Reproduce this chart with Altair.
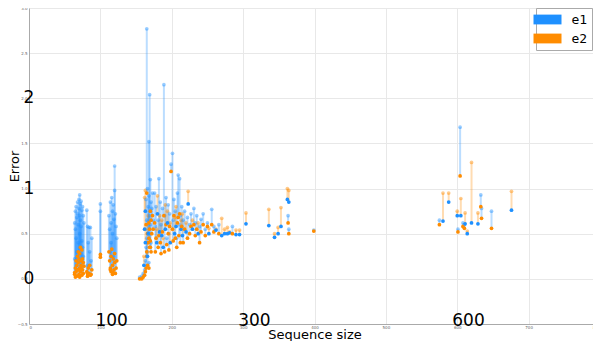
import altair as alt
import pandas as pd

# (sequence size, e1, e2) rows, grouped by cluster
cluster_a = [(64,0.62,0.05),(65,0.75,0.12),(65,0.55,0.02),(66,0.80,0.20),(66,0.45,0.08),
             (67,0.68,0.15),(67,0.30,0.03),(68,0.85,0.25),(68,0.72,0.10),(69,0.60,0.30),
             (69,0.40,0.18),(70,0.88,0.22),(70,0.78,0.05),(71,0.93,0.28),(71,0.70,0.12),
             (71,0.50,0.02),(72,0.83,0.35),(72,0.65,0.08),(73,0.86,0.20),(73,0.58,0.15),
             (74,0.76,0.32),(74,0.42,0.04),(75,0.80,0.10),(75,0.35,0.22),(76,0.70,0.18),
             (76,0.25,0.06),(77,0.62,0.14),(64,0.22,0.07),(69,0.20,0.10),(73,0.28,0.12)]
cluster_b = [(81,0.76,0.08),(82,0.58,0.03),(83,0.40,0.12),(84,0.57,0.06),(85,0.30,0.15),
             (86,0.57,0.04),(87,0.20,0.05),(88,0.45,0.10),(82,0.15,0.06),
             (100,0.83,0.27),(100,0.75,0.24)]
cluster_c = [(112,0.70,0.30),(113,0.55,0.20),(114,0.85,0.12),(115,0.62,0.08),(115,0.40,0.25),
             (116,0.90,0.33),(117,0.75,0.05),(117,0.50,0.15),(118,0.82,0.22),(119,0.66,0.10),
             (120,1.25,0.18),(120,0.98,0.28),(121,0.72,0.06),(122,0.58,0.12),(123,0.45,0.20),
             (114,0.30,0.10),(118,0.25,0.07)]
cluster_d = [(155,0.02,0.0),(158,0.03,0.0),(160,0.06,0.02),(162,0.10,0.04),(162,0.55,0.90),
             (163,0.20,0.08),(163,0.75,0.98),(164,0.35,0.12),(164,0.88,0.60),(165,2.77,0.95),
             (165,0.45,0.25),(165,0.65,0.30),(166,1.00,0.50),(166,0.30,0.15),(167,0.80,0.40),
             (167,0.50,0.70),(168,1.52,0.62),(168,0.92,0.45),(169,2.04,0.55),(169,0.70,0.35),
             (170,1.10,0.75),(170,0.60,0.42),(171,0.85,0.65),(171,0.40,0.30),(172,0.78,0.50),
             (173,0.95,0.70),(174,0.65,0.55),(161,0.15,0.25),(163,0.40,0.55),(166,0.25,0.40),
             (168,0.18,0.12),(170,0.50,0.35)]
cluster_e = [(176,0.95,0.62),(177,0.58,0.30),(178,0.80,0.45),(179,0.40,0.55),(180,0.72,0.92),
             (181,0.65,0.35),(182,1.11,0.48),(183,0.52,0.70),(184,0.85,0.40),(185,0.60,0.28),
             (186,0.48,0.65),(187,0.78,0.52),(188,0.35,0.45),(189,2.15,0.70),(190,0.70,0.30),
             (191,0.55,0.82),(192,0.90,0.60),(193,0.45,0.38),(194,0.62,0.75),(195,0.82,0.50),
             (196,0.50,0.32),(197,0.72,0.58),(198,0.40,0.62),(199,1.27,1.19),(201,1.39,0.55),
             (202,0.65,0.42),(203,0.88,0.70),(204,0.50,0.68),(205,0.75,0.45),(206,0.58,0.80),
             (207,0.45,0.35),(208,0.95,0.62),(209,1.15,0.68),(210,0.60,0.48),(211,1.11,0.72),
             (212,0.70,0.40),(213,0.55,0.65),(214,0.80,0.58),(215,0.48,0.72),(216,0.65,0.40),
             (218,0.75,0.55),(220,0.52,0.62),(222,0.68,0.45),(223,0.83,0.97),(225,0.60,0.50),
             (227,0.72,0.58),(229,0.55,0.65),(231,0.78,0.60),(233,0.62,0.48),(235,0.70,0.55),
             (237,0.50,0.62),(239,0.58,0.40),(241,0.66,0.52),(244,0.72,0.60),(247,0.55,0.48),
             (250,0.62,0.58),(252,0.50,0.56),(256,0.77,0.60),(259,0.58,0.52),(262,0.54,0.55),
             (266,0.60,0.50),(270,0.48,0.67),(274,0.50,0.55),(278,0.50,0.57),(281,0.51,0.52),
             (285,0.58,0.50),(290,0.49,0.54),(295,0.49,0.54),(304,0.61,0.73)]
cluster_f = [(336,0.59,0.77),(344,0.46,0.50),(349,0.50,0.57),(353,0.58,0.79),(362,0.88,1.00),
             (364,0.85,0.98),(363,0.70,0.62),(364,0.55,0.50),(399,0.54,0.53)]
cluster_g = [(575,0.65,0.60),(580,0.64,0.95),(588,0.85,0.95),(600,0.70,0.75),(601,0.55,0.52),
             (604,1.68,1.14),(605,0.70,0.89),(608,0.62,0.58),(610,0.60,0.56),(611,0.61,0.73),
             (614,0.50,0.53),(620,0.62,1.29),(629,0.61,0.73),(633,0.93,0.80),(634,0.78,0.67),
             (648,0.75,0.56),(676,0.76,0.97)]

series_names = ["e1", "e2"]
series_colors = ["#1e90ff", "#ff8c00"]

big_x_labels = ["100", "300", "600"]
big_x_values = [100, 300, 600]
big_y_labels = ["0", "1", "2"]
big_y_values = [0, 1, 2]

rows = cluster_a + cluster_b + cluster_c + cluster_d + cluster_e + cluster_f + cluster_g
df = pd.DataFrame(rows, columns=["seq", "e1", "e2"])

base = alt.Chart(df).transform_calculate(
    hi="max(datum.e1, datum.e2)",
    lo="min(datum.e1, datum.e2)",
    hiS="datum.e1 >= datum.e2 ? 'e1' : 'e2'",
    loS="datum.e1 >= datum.e2 ? 'e2' : 'e1'",
)

W, H = 571, 316

xs = alt.Scale(domain=[0, 800], nice=False, zero=False)
ys = alt.Scale(domain=[-0.5, 3], nice=False, zero=False)
cs = alt.Scale(domain=series_names, range=series_colors)

legend = alt.Legend(
    title=None, orient="none", legendX=507, legendY=0, padding=4.5, rowPadding=5,
    symbolType="M-2,-0.7H2V0.7H-2Z", symbolSize=196, symbolStrokeWidth=0,
    symbolOpacity=1, labelFont="DejaVu Sans Mono", labelFontSize=13,
    labelOffset=17, strokeColor="#aaaaaa", fillColor="white", cornerRadius=0)

xax = alt.Axis(values=[0, 100, 200, 300, 400, 500, 600, 700, 800], labelFontSize=4,
               labelColor="#666", tickSize=0, labelPadding=1, title="Sequence size",
               titleFontSize=13, titleFontWeight="normal", titleY=14,
               titleBaseline="alphabetic",
               titleColor="#000", titleFont="DejaVu Sans")
yax = alt.Axis(values=[-0.5, 0, 0.5, 1, 1.5, 2, 2.5, 3], format=".1f", labelFontSize=4,
               labelColor="#666", tickSize=0, labelPadding=2, title="Error",
               titleFontSize=13, titleFontWeight="normal", titleX=-11,
               titleBaseline="alphabetic",
               titleColor="#000", titleFont="DejaVu Sans")

rules = base.mark_rule(opacity=0.3, strokeWidth=2).encode(
    x=alt.X("seq:Q", scale=xs, axis=xax),
    y=alt.Y("lo:Q", scale=ys, axis=yax),
    y2="hi:Q",
    color=alt.Color("hiS:N", scale=cs, legend=legend, title=None),
)
hi_pts = base.mark_circle(size=14, opacity=0.45).encode(
    x="seq:Q", y="hi:Q",
    color=alt.Color("hiS:N", scale=cs, legend=legend, title=None),
)
lo_pts = base.mark_circle(size=14, opacity=1).encode(
    x="seq:Q", y="lo:Q",
    color=alt.Color("loS:N", scale=cs, legend=legend, title=None),
)

xl = pd.DataFrame({"label": big_x_labels, "x": big_x_values, "y": [-0.5] * 3})
yl = pd.DataFrame({"label": big_y_labels, "x": [0] * 3, "y": big_y_values})
xtext = alt.Chart(xl).mark_text(fontSize=17, font="DejaVu Sans", align="left",
                                baseline="alphabetic", dx=-5, dy=2, color="#000").encode(
    x="x:Q", y="y:Q", text="label:N")
ytext = alt.Chart(yl).mark_text(fontSize=17, font="DejaVu Sans", align="center",
                                baseline="middle", color="#000").encode(
    x="x:Q", y="y:Q", text="label:N")

chart = alt.layer(rules, hi_pts, lo_pts, xtext, ytext).properties(
    width=W, height=H,
    autosize=alt.AutoSizeParams(type="none"),
    padding={"left": 21, "top": 0, "right": -7, "bottom": 333 - H},
).configure_axis(
    gridColor="#e8e8e8", domainColor="#aaaaaa", labelFont="DejaVu Sans"
).configure_view(stroke=None)

chart.save("out.html", embed_options={"renderer": "svg", "actions": False})
